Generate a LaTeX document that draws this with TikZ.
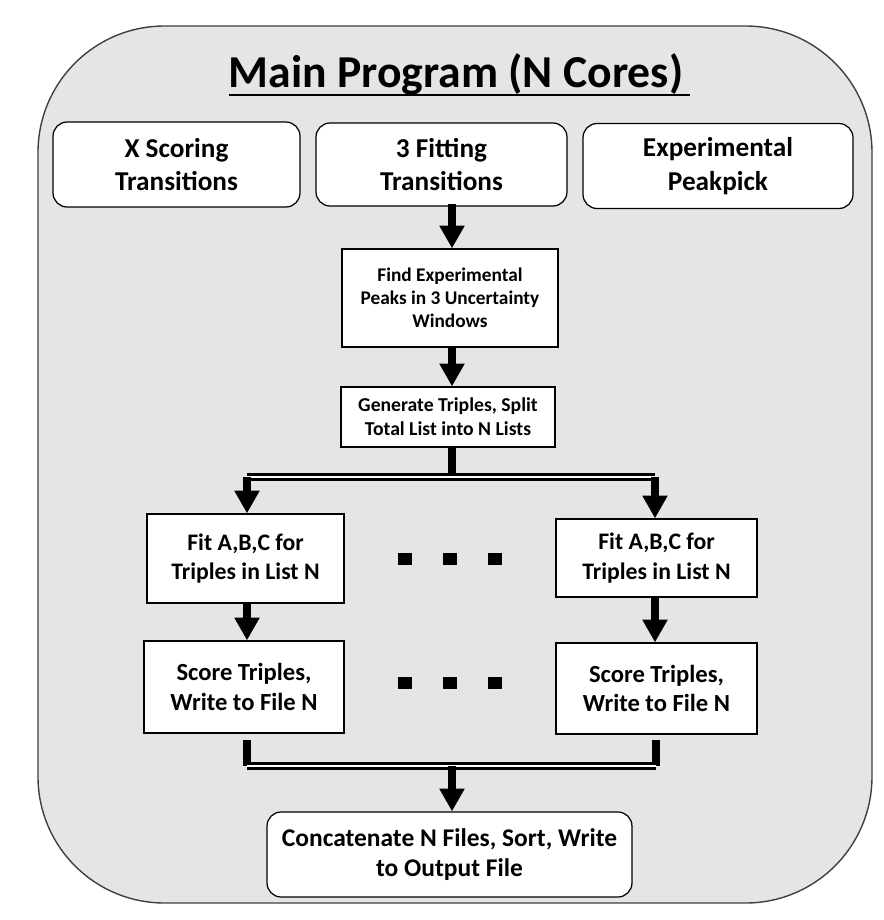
\documentclass[tikz,border=0pt]{standalone}
\usepackage{fontspec}
\setmainfont{Carlito}
\usetikzlibrary{arrows.meta,positioning}

\tikzset{
  outerbox/.style={draw=black!75, line width=0.8pt, fill=black!10, rounded corners=72pt},
  topbox/.style={draw, line width=0.7pt, fill=white, rounded corners=8pt, align=center,
    inner sep=0pt, font=\bfseries\fontsize{15.5}{19}\selectfont},
  stepbox/.style={draw, line width=0.7pt, fill=white, align=center, inner sep=0pt},
  flow/.style={line width=4.5pt, -{Triangle[width=13.6pt,length=13pt]}},
  stem/.style={line width=4.5pt},
  branch/.style={double=white, line width=1.7pt, double distance=1.4pt},
}

\begin{document}
\begin{tikzpicture}[x=0.02cm,y=-0.02cm]
  \useasboundingbox (0,0) rectangle (884,920);
  % outer frame
  \draw[outerbox] (38,26) rectangle (872,903);
  \node[font=\bfseries\fontsize{26}{30}\selectfont, anchor=base] (title) at (456,87) {Main Program (N Cores)};
  \draw[line width=1.4pt] (229,95) -- (690,95);

  % inputs
  \node[topbox, minimum width=4.94cm, minimum height=1.7cm] (xscore) at (176.5,164.5) {X Scoring\\Transitions};
  \node[topbox, minimum width=5.02cm, minimum height=1.66cm] (fit3) at (441.5,164.5) {3 Fitting\\Transitions};
  \node[topbox, minimum width=5.4cm, minimum height=1.7cm] (peak) at (718,166) {Experimental\\Peakpick};

  % serial steps
  \node[stepbox, minimum width=4.32cm, minimum height=1.96cm,
    font=\bfseries\fontsize{11}{13}\selectfont] (find) at (450,298)
    {Find Experimental\\Peaks in 3 Uncertainty\\Windows};
  \node[stepbox, minimum width=4.28cm, minimum height=1.2cm,
    font=\bfseries\fontsize{11.2}{13.6}\selectfont] (gen) at (448,417)
    {Generate Triples, Split\\Total List into N Lists};

  % parallel steps
  \node[stepbox, minimum width=3.94cm, minimum height=1.78cm,
    font=\bfseries\fontsize{13.5}{17}\selectfont] (fitL) at (245.5,558.5) {Fit A,B,C for\\Triples in List N};
  \node[stepbox, minimum width=4.02cm, minimum height=1.56cm,
    font=\bfseries\fontsize{13.5}{17}\selectfont] (fitR) at (656.5,558) {Fit A,B,C for\\Triples in List N};
  \node[stepbox, minimum width=4cm, minimum height=1.84cm,
    font=\bfseries\fontsize{14}{17}\selectfont] (scoreL) at (244,687) {Score Triples,\\Write to File N};
  \node[stepbox, minimum width=4.02cm, minimum height=1.82cm,
    font=\bfseries\fontsize{14}{17}\selectfont] (scoreR) at (656.5,688.5) {Score Triples,\\Write to File N};

  % output
  \node[topbox, minimum width=7.3cm, minimum height=1.7cm,
    font=\bfseries\fontsize{14.5}{17}\selectfont] (concat) at (449.5,854.5)
    {Concatenate N Files, Sort, Write\\to Output File};

  % dots between the parallel columns
  \foreach \y in {559,683}
    \foreach \x in {405,450,495}
      \fill (\x-7,\y-6) rectangle (\x+7,\y+6);

  % connectors
  \coordinate (split) at (452,477);
  \coordinate (splitL) at (247,477);
  \coordinate (splitR) at (655,477);
  \coordinate (joinL) at (247,740);
  \coordinate (joinR) at (656,740);
  \coordinate (joinLb) at (247,766);
  \coordinate (joinRb) at (656,766);
  \coordinate (join) at (452,766);

  \draw[flow] (find.north -| split) ++(0,-44) -- (find.north -| split);
  \draw[flow] (find.south -| split) -- (gen.north -| split);
  \draw[stem] (gen.south -| split) -- (split);
  \draw[branch] (splitL) -- (splitR);
  \draw[flow] (splitL) -- (splitL |- fitL.north);
  \draw[flow] (splitR) -- (fitR.north -| splitR);
  \draw[flow] (fitL.south -| splitL) -- (splitL |- scoreL.north);
  \draw[flow] (fitR.south -| splitR) -- (scoreR.north -| splitR);
  \draw[stem] (joinL) -- (joinLb);
  \draw[stem] (joinR) -- (joinRb);
  \draw[branch] (joinLb) -- (joinRb);
  \draw[flow] (join) -- (join |- concat.north);
\end{tikzpicture}
\end{document}
